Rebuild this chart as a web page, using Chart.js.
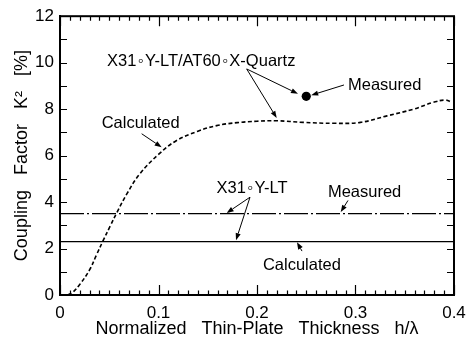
<!DOCTYPE html>
<html>
<head>
<meta charset="utf-8">
<script src="https://cdn.jsdelivr.net/npm/chart.js@4/dist/chart.umd.min.js"></script>
<style>
  html, body { margin: 0; padding: 0; background: #fff; }
  #wrap { width: 466px; height: 344px; }
</style>
</head>
<body>
<div id="wrap"><canvas id="c" width="466" height="344"></canvas></div>
<script>
// Normalized thickness h/λ and coupling factor K² [%] for X31°Y-LT/AT60°X-Quartz (calculated)
const hCalc = [0.008, 0.013, 0.02, 0.03, 0.037, 0.044, 0.051, 0.058, 0.068, 0.081, 0.1, 0.118,
               0.14, 0.159, 0.18, 0.2, 0.22, 0.247, 0.278, 0.305, 0.332, 0.359, 0.379, 0.391, 0.398];
const kCalc = [0.0, 0.12, 0.45, 1.08, 1.72, 2.36, 2.97, 3.57, 4.36, 5.21, 6.05, 6.64,
               7.05, 7.29, 7.42, 7.48, 7.5, 7.43, 7.39, 7.43, 7.71, 8.0, 8.29, 8.39, 8.29];
// Measured point for the bonded structure
const hMeas = [0.25];
const kMeas = [8.55];
// X31°Y-LT alone: measured and calculated levels
const ltMeasured = 3.5;
const ltCalculated = 2.3;
// Axis ranges and labels
const xRange = [0, 0.4];
const yRange = [0, 12];
const xTickLabels = [0, 0.1, 0.2, 0.3, 0.4];
const yTickLabels = [0, 2, 4, 6, 8, 10, 12];

const FONT = "'Liberation Sans', Arial, sans-serif";
const RING = '\u200A\u25E6\u200A';

// Callout texts (data coordinates, left-aligned, vertically centred)
const notes = [
  { text: 'X31' + RING + 'Y-LT/AT60' + RING + 'X-Quartz', x: 0.0477, y: 10.07 },
  { text: 'Measured', x: 0.2924, y: 9.0 },
  { text: 'Calculated', x: 0.0423, y: 7.37 },
  { text: 'X31' + RING + 'Y-LT', x: 0.159, y: 4.57 },
  { text: 'Measured', x: 0.272, y: 4.43 },
  { text: 'Calculated', x: 0.206, y: 1.29 }
];
// Leader arrows: from [x, y] to [x, y], head at the end
const arrows = [
  [[0.1895, 9.73], [0.2416, 8.66]],
  [[0.1895, 9.73], [0.2200, 7.62]],
  [[0.2883, 9.04], [0.2550, 8.60]],
  [[0.0829, 6.94], [0.1032, 6.36]],
  [[0.1929, 4.21], [0.1692, 3.53]],
  [[0.1929, 4.21], [0.1787, 2.36]],
  [[0.2924, 4.07], [0.2850, 3.57]],
  [[0.2457, 1.89], [0.2406, 2.27]]
];

const curve = hCalc.map((h, i) => ({ x: h, y: kCalc[i] }));
const measPts = hMeas.map((h, i) => ({ x: h, y: kMeas[i] }));

// Box frame with inward ticks on all four sides
const frame = {
  id: 'frame',
  afterDraw(chart) {
    const ctx = chart.ctx;
    const a = chart.chartArea;
    const xs = chart.scales.x, ys = chart.scales.y;
    ctx.save();
    ctx.strokeStyle = '#000';
    ctx.lineWidth = 2;
    ctx.strokeRect(a.left, a.top, a.right - a.left, a.bottom - a.top);
    ctx.lineWidth = 1.2;
    ctx.beginPath();
    for (let i = 0; i <= 40; i++) {
      const px = Math.round(xs.getPixelForValue(i / 100)) + 0.5;
      const len = (i % 10 === 0) ? 10 : 4.5;
      ctx.moveTo(px, a.bottom); ctx.lineTo(px, a.bottom - len);
      ctx.moveTo(px, a.top); ctx.lineTo(px, a.top + len);
    }
    for (let v = yRange[0]; v <= yRange[1]; v++) {
      const py = Math.round(ys.getPixelForValue(v)) + 0.5;
      ctx.moveTo(a.left, py); ctx.lineTo(a.left + 7, py);
      ctx.moveTo(a.right, py); ctx.lineTo(a.right - 7, py);
    }
    ctx.stroke();
    ctx.restore();
  }
};

// Callouts and leader arrows
const callouts = {
  id: 'callouts',
  afterDraw(chart) {
    const ctx = chart.ctx;
    const xs = chart.scales.x, ys = chart.scales.y;
    ctx.save();
    ctx.strokeStyle = '#000';
    ctx.fillStyle = '#000';
    ctx.lineWidth = 1;
    arrows.forEach(([p, q]) => {
      const x1 = xs.getPixelForValue(p[0]), y1 = ys.getPixelForValue(p[1]);
      const x2 = xs.getPixelForValue(q[0]), y2 = ys.getPixelForValue(q[1]);
      const ang = Math.atan2(y2 - y1, x2 - x1);
      const c = Math.cos(ang), s = Math.sin(ang);
      const hl = 7, hw = 2.6;
      ctx.beginPath();
      ctx.moveTo(x1, y1);
      ctx.lineTo(x2 - hl * c, y2 - hl * s);
      ctx.stroke();
      ctx.beginPath();
      ctx.moveTo(x2, y2);
      ctx.lineTo(x2 - hl * c + hw * s, y2 - hl * s - hw * c);
      ctx.lineTo(x2 - hl * c - hw * s, y2 - hl * s + hw * c);
      ctx.closePath();
      ctx.fill();
    });
    ctx.font = '16.5px ' + FONT;
    ctx.textAlign = 'left';
    ctx.textBaseline = 'middle';
    notes.forEach(n => {
      ctx.fillText(n.text, xs.getPixelForValue(n.x), ys.getPixelForValue(n.y));
    });
    ctx.restore();
  }
};

new Chart(document.getElementById('c'), {
  type: 'scatter',
  data: {
    datasets: [
      {
        label: 'X31°Y-LT/AT60°X-Quartz calculated',
        data: curve,
        showLine: true,
        borderColor: '#000',
        borderWidth: 1.6,
        borderDash: [4, 2.5],
        pointRadius: 0,
        tension: 0.4,
        fill: false
      },
      {
        label: 'X31°Y-LT/AT60°X-Quartz measured',
        data: measPts,
        pointRadius: 4.6,
        pointBackgroundColor: '#000',
        pointBorderColor: '#000',
        pointBorderWidth: 0
      },
      {
        label: 'X31°Y-LT measured',
        data: [{ x: xRange[0], y: ltMeasured }, { x: xRange[1], y: ltMeasured }],
        showLine: true,
        borderColor: '#000',
        borderWidth: 1.3,
        borderDash: [24, 3, 2, 3],
        pointRadius: 0
      },
      {
        label: 'X31°Y-LT calculated',
        data: [{ x: xRange[0], y: ltCalculated }, { x: xRange[1], y: ltCalculated }],
        showLine: true,
        borderColor: '#000',
        borderWidth: 1.2,
        pointRadius: 0
      }
    ]
  },
  options: {
    responsive: false,
    devicePixelRatio: 1,
    animation: false,
    layout: { padding: { left: 0, right: 12, top: 15, bottom: 0 } },
    plugins: { legend: { display: false }, tooltip: { enabled: false } },
    scales: {
      x: {
        type: 'linear',
        min: xRange[0],
        max: xRange[1],
        grid: { display: false, drawTicks: false },
        border: { display: true, color: '#000', width: 2 },
        afterBuildTicks: s => { s.ticks = xTickLabels.map(v => ({ value: v })); },
        afterFit: s => { s.height = 49; s.paddingLeft = 0; s.paddingRight = 0; },
        ticks: {
          padding: 8,
          color: '#000',
          font: { family: FONT, size: 17 },
          maxRotation: 0,
          callback: v => String(v)
        },
        title: {
          display: true,
          text: 'Normalized   Thin-Plate   Thickness   h/\u03BB',
          color: '#000',
          font: { family: FONT, size: 18 },
          padding: { top: 0, bottom: 4 }
        }
      },
      y: {
        type: 'linear',
        min: yRange[0],
        max: yRange[1],
        grid: { display: false, drawTicks: false },
        border: { display: true, color: '#000', width: 2 },
        afterBuildTicks: s => { s.ticks = yTickLabels.map(v => ({ value: v })); },
        afterFit: s => { s.width = 60; },
        ticks: {
          padding: 6,
          color: '#000',
          font: { family: FONT, size: 17 },
          callback: v => String(v)
        },
        title: {
          display: true,
          text: 'Coupling   Factor   K\u00B2   [%]',
          color: '#000',
          font: { family: FONT, size: 18 },
          padding: { top: 11, bottom: 0 }
        }
      }
    }
  },
  plugins: [frame, callouts]
});
</script>
</body>
</html>
